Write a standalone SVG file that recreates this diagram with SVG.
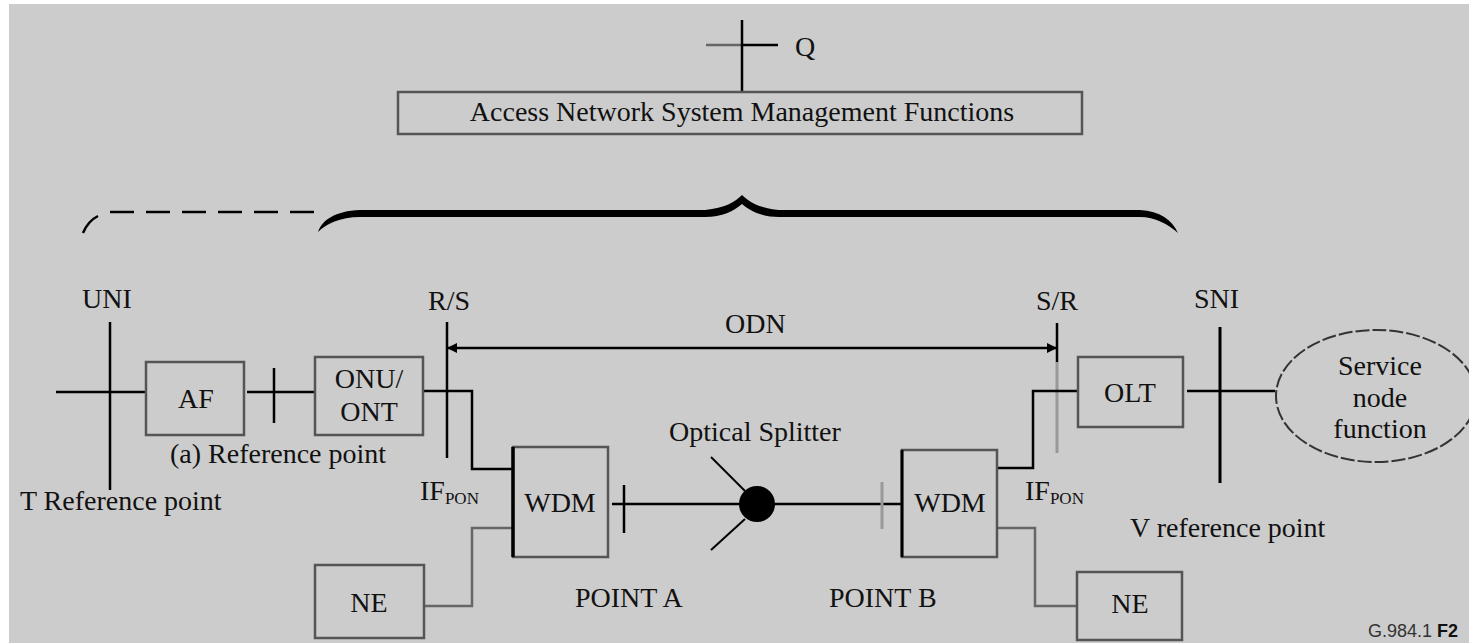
<svg xmlns="http://www.w3.org/2000/svg" width="1469" height="643" viewBox="0 0 1469 643">
<defs>
<marker id="ah" viewBox="0 0 10 10" refX="10" refY="5" markerWidth="5" markerHeight="4" orient="auto-start-reverse" markerUnits="strokeWidth">
<path d="M0,0 L10,5 L0,10 Z" fill="#000"/>
</marker>
</defs>
<style>
text{font-family:"Liberation Serif","Times New Roman",serif;font-size:28px;fill:#111}
.box{fill:none;stroke:#555;stroke-width:2.5}
.ln{fill:none;stroke:#000;stroke-width:2.5}
.gl{fill:none;stroke:#666;stroke-width:2.5}
.sub{font-size:17px}
.c{text-anchor:middle}
</style>
<rect x="0" y="0" width="1469" height="643" fill="#fff"/>
<rect x="9" y="4" width="1460" height="639" fill="#cccccc"/>

<g id="mgmt">
<line class="gl" x1="706" y1="45" x2="742" y2="45" stroke="#777"/>
<line class="ln" x1="742" y1="45" x2="778" y2="45"/>
<line class="ln" x1="742" y1="20" x2="742" y2="92"/>
<text x="795" y="56">Q</text>
<rect class="box" x="398" y="92" width="684" height="42"/>
<text class="c" x="742" y="121">Access Network System Management Functions</text>
</g>

<g id="brace">
<path d="M318,232 C322,220 335,211 360,210 L705,210 C725,208 735,202 742,195 C749,202 759,208 779,210 L1140,210 C1160,211 1172,220 1178,233 C1168,224 1155,217 1140,217 L779,217 C762,217 750,211 742,204 C734,211 722,217 705,217 L360,217 C340,217 326,224 318,232 Z" fill="#000"/>
<line x1="110" y1="212" x2="318" y2="212" stroke="#000" stroke-width="2.5" stroke-dasharray="24,12"/>
<path d="M83,233 Q88,221 98,216" fill="none" stroke="#000" stroke-width="2.5"/>
</g>

<g id="labels">
<text x="82" y="308">UNI</text>
<text x="428" y="310">R/S</text>
<text x="725" y="333">ODN</text>
<text x="1036" y="310">S/R</text>
<text x="1194" y="308">SNI</text>
<text x="170" y="463">(a) Reference point</text>
<text x="20" y="510">T Reference point</text>
<text x="1130" y="537">V reference point</text>
<text x="669" y="441">Optical Splitter</text>
<text x="575" y="607">POINT A</text>
<text x="829" y="607">POINT B</text>
<text x="420" y="500">IF<tspan class="sub" dy="4">PON</tspan></text>
<text x="1025" y="500">IF<tspan class="sub" dy="4">PON</tspan></text>
<text x="1368" y="637" style="font-family:'Liberation Sans',Arial,sans-serif;font-size:18px;fill:#333">G.984.1 <tspan style="font-weight:bold;fill:#111">F2</tspan></text>
</g>

<g id="connectors">
<line class="ln" x1="110" y1="322" x2="110" y2="490"/>
<line class="ln" x1="56" y1="392" x2="146" y2="392"/>
<line class="ln" x1="247" y1="392" x2="315" y2="392"/>
<line class="ln" x1="274" y1="368" x2="274" y2="423"/>
<line class="ln" x1="447" y1="322" x2="447" y2="458"/>
<line class="ln" x1="447" y1="348" x2="1057" y2="348" marker-start="url(#ah)" marker-end="url(#ah)"/>
<line class="ln" x1="1057" y1="323" x2="1057" y2="362"/>
<line x1="1057" y1="362" x2="1057" y2="453" stroke="#999" stroke-width="3"/>
<path class="ln" d="M423,391 H472 V469 H513" stroke="#333"/>
<path class="gl" d="M513,528 H472 V606 H424" stroke="#777"/>
<line class="ln" x1="612" y1="504" x2="902" y2="504"/>
<line class="ln" x1="624" y1="485" x2="624" y2="533"/>
<line x1="882" y1="482" x2="882" y2="529" stroke="#999" stroke-width="3"/>
<line x1="711" y1="457" x2="745" y2="491" stroke="#000" stroke-width="2"/>
<line x1="711" y1="550" x2="745" y2="519" stroke="#000" stroke-width="2"/>
<path class="ln" d="M997,468 H1033 V391 H1078" stroke="#333"/>
<path class="gl" d="M997,528 H1035 V606 H1077" stroke="#777"/>
<line class="ln" x1="1187" y1="391" x2="1275" y2="391"/>
<line x1="1220" y1="327" x2="1220" y2="483" stroke="#000" stroke-width="3"/>
</g>

<g id="af">
<rect class="box" x="146" y="362" width="98" height="73"/>
<text class="c" x="196" y="408">AF</text>
</g>
<g id="onu">
<rect class="box" x="315" y="357" width="108" height="78"/>
<text class="c" x="369" y="388">ONU/</text>
<text class="c" x="369" y="421">ONT</text>
</g>
<g id="ne1">
<rect class="box" x="315" y="565" width="109" height="73"/>
<text class="c" x="369" y="612">NE</text>
</g>
<g id="wdm1">
<rect class="box" x="513" y="447" width="95" height="110"/>
<line x1="513" y1="447" x2="513" y2="557" stroke="#000" stroke-width="3.5"/>
<text class="c" x="560" y="512">WDM</text>
</g>
<g id="splitter">
<circle cx="757" cy="504" r="18" fill="#000"/>
</g>
<g id="wdm2">
<rect class="box" x="902" y="450" width="95" height="107"/>
<line x1="902" y1="450" x2="902" y2="557" stroke="#000" stroke-width="3"/>
<text class="c" x="950" y="512">WDM</text>
</g>
<g id="olt">
<rect class="box" x="1078" y="357" width="105" height="70"/>
<text class="c" x="1130" y="402">OLT</text>
</g>
<g id="ne2">
<rect class="box" x="1077" y="572" width="105" height="68"/>
<text class="c" x="1130" y="613">NE</text>
</g>
<g id="snf">
<ellipse cx="1376" cy="396" rx="100" ry="66" fill="none" stroke="#333" stroke-width="2" stroke-dasharray="14,3"/>
<text class="c" x="1380" y="375">Service</text>
<text class="c" x="1380" y="407">node</text>
<text class="c" x="1380" y="438">function</text>
</g>
</svg>
